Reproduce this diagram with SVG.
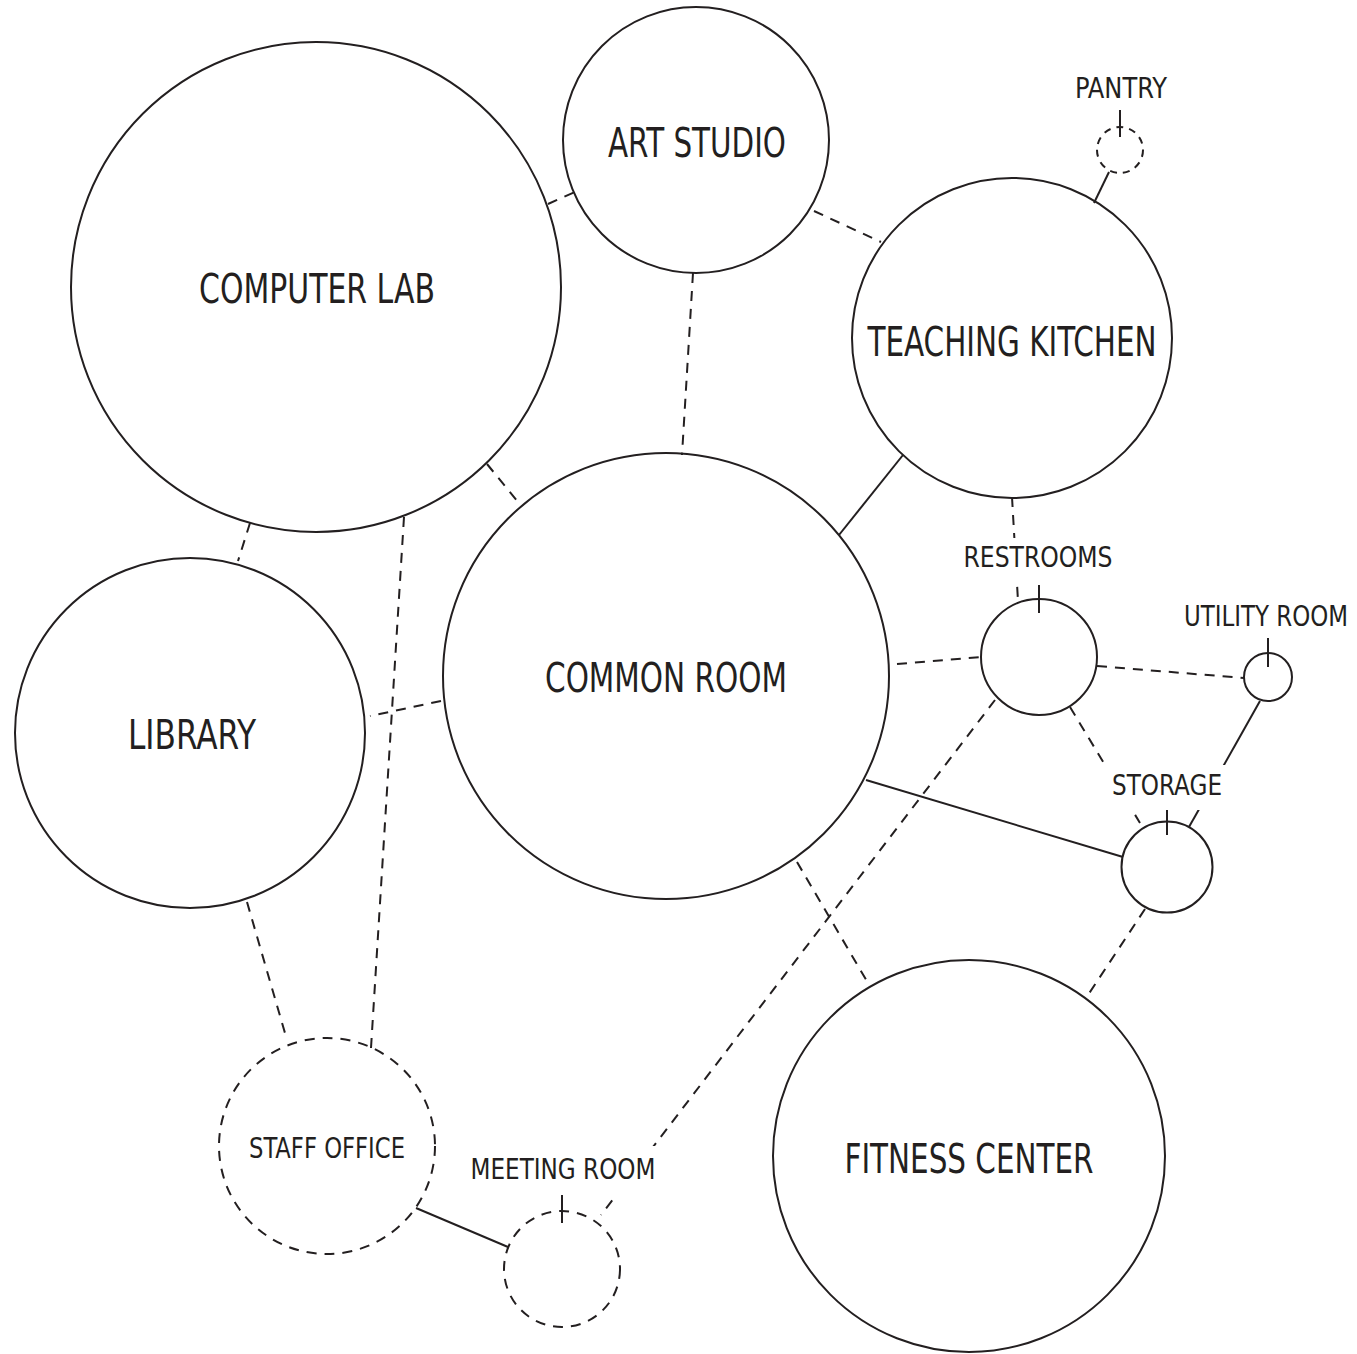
<svg xmlns="http://www.w3.org/2000/svg" width="1357" height="1354" viewBox="0 0 1357 1354">
<style>
.n{fill:none;stroke:#231f20;stroke-width:2}
.d{stroke-dasharray:10 8}
.e{stroke:#231f20;stroke-width:2;fill:none}
.ed{stroke-dasharray:10 8}
.bg{fill:#fff;stroke:none}
text{font-family:"Liberation Sans Narrow","DejaVu Sans Condensed","Liberation Sans",sans-serif;fill:#231f20;text-anchor:middle}
.L{font-size:40px}
.S{font-size:29px}
</style>
<rect width="1357" height="1354" fill="#fff"/>
<g id="connectors">
<line class="e ed" x1="548" y1="204" x2="577" y2="191"/>
<line class="e ed" x1="814" y1="211" x2="881" y2="242"/>
<line class="e ed" x1="693" y1="273" x2="682" y2="455"/>
<line class="e" x1="1109" y1="172" x2="1094" y2="203"/>
<line class="e ed" x1="487" y1="464" x2="518" y2="502"/>
<line class="e ed" x1="250" y1="523" x2="238" y2="561"/>
<line class="e ed" x1="404" y1="517" x2="371" y2="1048"/>
<line class="e" x1="903" y1="455" x2="839" y2="535"/>
<line class="e ed" x1="1012" y1="497" x2="1018" y2="601"/>
<line class="e ed" x1="441" y1="701" x2="370" y2="716"/>
<line class="e ed" x1="897" y1="664" x2="981" y2="657"/>
<line class="e ed" x1="1097" y1="666" x2="1244" y2="678"/>
<line class="e ed" x1="1070" y1="707" x2="1140" y2="823"/>
<line class="e" x1="1260" y1="701" x2="1189" y2="827"/>
<line class="e" x1="866" y1="780" x2="1123" y2="857"/>
<line class="e ed" x1="1145" y1="909" x2="1086" y2="998"/>
<line class="e ed" x1="797" y1="862" x2="868" y2="983"/>
<line class="e ed" x1="995" y1="700" x2="601" y2="1215"/>
<line class="e ed" x1="247" y1="902" x2="287" y2="1040"/>
<line class="e" x1="416" y1="1208" x2="508" y2="1247"/>
</g>
<g id="computer-lab">
<circle class="n" cx="316" cy="287" r="245"/>
<text class="L" x="317" y="303" textLength="236" lengthAdjust="spacingAndGlyphs">COMPUTER LAB</text>
</g>
<g id="art-studio">
<circle class="n" cx="696" cy="140" r="133"/>
<text class="L" x="697" y="157" textLength="178" lengthAdjust="spacingAndGlyphs">ART STUDIO</text>
</g>
<g id="teaching-kitchen">
<circle class="n" cx="1012" cy="338" r="160"/>
<text class="L" x="1012" y="356" textLength="289" lengthAdjust="spacingAndGlyphs">TEACHING KITCHEN</text>
</g>
<g id="pantry">
<circle class="n" cx="1120" cy="150" r="23" stroke-dasharray="7 6"/>
<line class="e" x1="1120" y1="110" x2="1120" y2="137"/>
<text class="S" x="1121" y="98" textLength="92" lengthAdjust="spacingAndGlyphs">PANTRY</text>
</g>
<g id="common-room">
<circle class="n" cx="666" cy="676" r="223"/>
<text class="L" x="666" y="692" textLength="242" lengthAdjust="spacingAndGlyphs">COMMON ROOM</text>
</g>
<g id="library">
<circle class="n" cx="190" cy="733" r="175"/>
<text class="L" x="192" y="749" textLength="128" lengthAdjust="spacingAndGlyphs">LIBRARY</text>
</g>
<g id="restrooms">
<circle class="n" cx="1039" cy="657" r="58"/>
<rect class="bg" x="958" y="538" width="162" height="47"/>
<line class="e" x1="1039" y1="585" x2="1039" y2="613"/>
<text class="S" x="1038" y="567" textLength="149" lengthAdjust="spacingAndGlyphs">RESTROOMS</text>
</g>
<g id="utility-room">
<circle class="n" cx="1268" cy="677" r="24"/>
<line class="e" x1="1268" y1="638" x2="1268" y2="667"/>
<text class="S" x="1266" y="626" textLength="164" lengthAdjust="spacingAndGlyphs">UTILITY ROOM</text>
</g>
<g id="storage">
<circle class="n" cx="1167" cy="867" r="45.5"/>
<rect class="bg" x="1104" y="765" width="126" height="45"/>
<line class="e" x1="1167" y1="810" x2="1167" y2="835"/>
<text class="S" x="1167" y="795" textLength="110" lengthAdjust="spacingAndGlyphs">STORAGE</text>
</g>
<g id="fitness-center">
<circle class="n" cx="969" cy="1156" r="196"/>
<text class="L" x="969" y="1173" textLength="249" lengthAdjust="spacingAndGlyphs">FITNESS CENTER</text>
</g>
<g id="staff-office">
<circle class="n d" cx="327" cy="1146" r="108"/>
<text class="S" x="327" y="1158" textLength="156" lengthAdjust="spacingAndGlyphs">STAFF OFFICE</text>
</g>
<g id="meeting-room">
<circle class="n d" cx="562" cy="1269" r="58"/>
<rect class="bg" x="464" y="1146" width="198" height="49"/>
<line class="e" x1="562" y1="1195" x2="562" y2="1223"/>
<text class="S" x="563" y="1179" textLength="185" lengthAdjust="spacingAndGlyphs">MEETING ROOM</text>
</g>
</svg>
